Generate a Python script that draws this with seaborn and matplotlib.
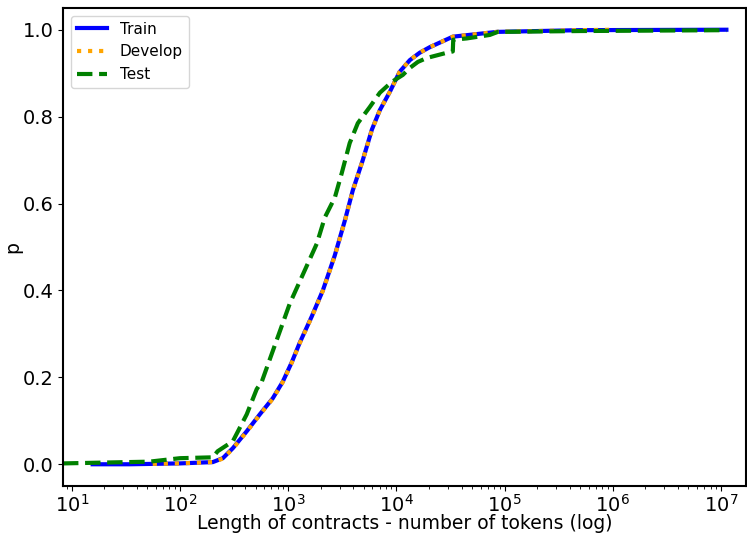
import matplotlib
matplotlib.use("Agg")
import matplotlib.pyplot as plt
import seaborn as sns

# Train CDF (tokens, p)
train_x = [15.6, 34, 100, 201, 249, 308, 414, 547, 721, 891, 1080, 1280, 1650, 2090, 2690,
           3340, 3950, 4890, 5930, 7030, 8690, 10700, 13300, 16400, 20400, 33200, 84700,
           495000, 1.12e7]
train_p = [0.000, 0.000, 0.002, 0.005, 0.014, 0.037, 0.076, 0.115, 0.152, 0.190, 0.235,
           0.280, 0.340, 0.400, 0.480, 0.561, 0.630, 0.700, 0.770, 0.815, 0.857, 0.903,
           0.930, 0.947, 0.960, 0.984, 0.995, 0.999, 1.000]

# Develop CDF
dev_x = [56, 100, 201, 249, 308, 414, 547, 721, 891, 1080, 1280, 1650, 2090, 2690,
         3340, 3950, 4890, 5930, 7030, 8690, 10700, 13300, 16400, 20400, 33200, 84700,
         495000, 1.0e6]
dev_p = [0.001, 0.002, 0.005, 0.013, 0.036, 0.075, 0.114, 0.151, 0.189, 0.234, 0.279,
         0.339, 0.399, 0.479, 0.560, 0.629, 0.700, 0.769, 0.815, 0.857, 0.903, 0.930,
         0.947, 0.960, 0.984, 0.995, 0.999, 1.000]

# Test CDF
test_x = [8.3, 52, 100, 201, 223, 308, 414, 512, 570, 1035, 1840, 2180, 2700, 3125,
          3700, 4400, 5670, 7030, 9070, 11460, 13300, 15800, 19100, 29200, 33200, 33500,
          44700, 72900, 86500, 495000, 1.12e7]
test_p = [0.002, 0.006, 0.014, 0.016, 0.030, 0.053, 0.115, 0.173, 0.190, 0.370, 0.508,
          0.568, 0.614, 0.670, 0.739, 0.785, 0.822, 0.855, 0.880, 0.896, 0.912, 0.926,
          0.935, 0.947, 0.950, 0.977, 0.980, 0.988, 0.995, 0.997, 0.999]

labels = ["Train", "Develop", "Test"]
x_ticks = [1e1, 1e2, 1e3, 1e4, 1e5, 1e6, 1e7]
y_ticks = [0.0, 0.2, 0.4, 0.6, 0.8, 1.0]

fig = plt.figure(figsize=(7.47, 5.33), dpi=100)
ax = fig.add_axes([63 / 747, 1 - 486 / 533, (746 - 63) / 747, (486 - 8) / 533])

sns.lineplot(x=train_x, y=train_p, ax=ax, color="blue", lw=3, label=labels[0],
             sort=False, estimator=None)
sns.lineplot(x=dev_x, y=dev_p, ax=ax, color="orange", lw=3, linestyle=":",
             label=labels[1], sort=False, estimator=None)
sns.lineplot(x=test_x, y=test_p, ax=ax, color="green", lw=3, linestyle="--",
             label=labels[2], sort=False, estimator=None)

ax.set_xscale("log")
ax.set_xticks(x_ticks)
ax.set_xlim(8.3, 1.7e7)
ax.set_ylim(-0.05, 1.05)
ax.set_yticks(y_ticks)
ax.set_xlabel("Length of contracts - number of tokens (log)", fontsize=13.5, labelpad=-1)
ax.set_ylabel("p", fontsize=13.5, labelpad=0)
ax.tick_params(labelsize=14)
ax.tick_params(axis="x", pad=2)
for s in ax.spines.values():
    s.set_linewidth(1.5)
ax.legend(loc="upper left", fontsize=11)

fig.savefig("out.png", dpi=100)
